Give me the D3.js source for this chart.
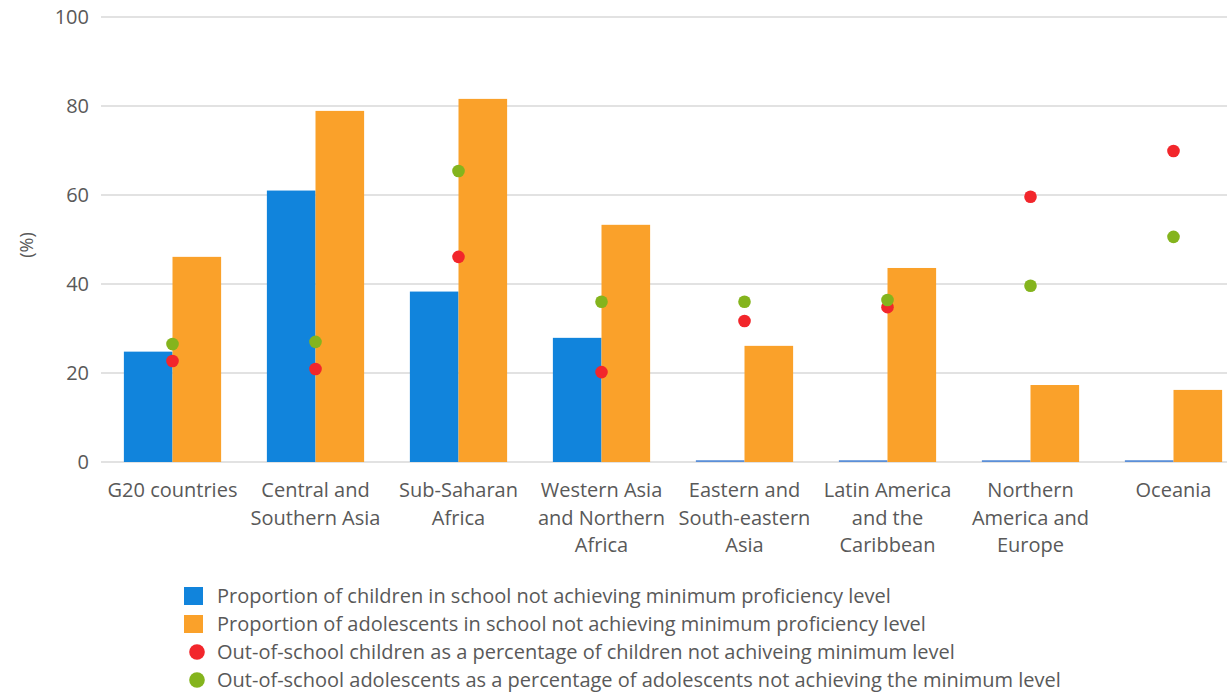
<!DOCTYPE html>
<html>
<head>
<meta charset="utf-8">
<script src="https://cdn.jsdelivr.net/npm/d3@7"></script>
<style>
  html, body { margin: 0; padding: 0; background: #fff; }
  svg { display: block; font-family: "Open Sans", sans-serif; }
</style>
</head>
<body>
<svg id="chart" width="1227" height="693"></svg>
<script>
// Regional shares of learners not reaching minimum proficiency
const categories = [
  "G20 countries",
  "Central and Southern Asia",
  "Sub-Saharan Africa",
  "Western Asia and Northern Africa",
  "Eastern and South-eastern Asia",
  "Latin America and the Caribbean",
  "Northern America and Europe",
  "Oceania"
];
const categoryLines = [
  ["G20 countries"],
  ["Central and", "Southern Asia"],
  ["Sub-Saharan", "Africa"],
  ["Western Asia", "and Northern", "Africa"],
  ["Eastern and", "South-eastern", "Asia"],
  ["Latin America", "and the", "Caribbean"],
  ["Northern", "America and", "Europe"],
  ["Oceania"]
];
const childrenInSchool    = [24.8, 61.0, 38.3, 27.9, 0.4, 0.4, 0.4, 0.4];
const adolescentsInSchool = [46.1, 78.9, 81.6, 53.3, 26.1, 43.6, 17.3, 16.2];
const outOfSchoolChildren    = [22.7, 20.9, 46.1, 20.2, 31.7, 34.8, 59.6, 69.9];
const outOfSchoolAdolescents = [26.5, 27.0, 65.4, 36.0, 36.0, 36.4, 39.6, 50.6];
const yTicks = [0, 20, 40, 60, 80, 100];

const seriesNames = [
  "Proportion of children in school not achieving minimum proficiency level",
  "Proportion of adolescents in school not achieving minimum proficiency level",
  "Out-of-school children as a percentage of children not achiveing minimum level",
  "Out-of-school adolescents as a percentage of adolescents not achieving the minimum level"
];
const colors = ["#1184dc", "#faa12a", "#f2262b", "#84b41d"];

const svg = d3.select("#chart");
const W = 1227;
const plotLeft = 101, plotRight = 1245;
const y = d3.scaleLinear().domain([0, 100]).range([462, 17]);
const x = d3.scaleBand().domain(categories).range([plotLeft, plotRight])
  .paddingInner(0.32).paddingOuter(0.16);
const xSub = d3.scaleBand().domain([0, 1]).range([0, x.bandwidth()]);

const textColor = "#595959";
const fontSize = "20px";

// gridlines
svg.append("g")
  .selectAll("line")
  .data(yTicks)
  .join("line")
  .attr("x1", plotLeft).attr("x2", W)
  .attr("y1", d => y(d)).attr("y2", d => y(d))
  .attr("stroke", "#e2e2e2").attr("stroke-width", 2);

// y axis labels
const yAxis = d3.axisLeft(y).tickValues(yTicks).tickSize(0).tickPadding(0);
svg.append("g")
  .attr("transform", `translate(89,0)`)
  .call(yAxis)
  .call(g => g.select(".domain").remove())
  .call(g => g.selectAll("text")
    .attr("fill", textColor)
    .style("font-size", fontSize)
    .style("font-family", "'Open Sans', sans-serif"));

svg.append("text")
  .attr("transform", "translate(33,245) rotate(-90)")
  .attr("text-anchor", "middle")
  .attr("fill", textColor)
  .style("font-size", "18px")
  .text("(%)");

// bars
const groups = svg.append("g")
  .selectAll("g")
  .data(categories)
  .join("g")
  .attr("transform", d => `translate(${x(d)},0)`);

groups.append("rect")
  .attr("x", xSub(0)).attr("width", xSub.bandwidth())
  .attr("y", (d, i) => y(childrenInSchool[i]))
  .attr("height", (d, i) => y(0) - y(childrenInSchool[i]))
  .attr("fill", (d, i) => childrenInSchool[i] < 1 ? "#5b8fd8" : colors[0]);

groups.append("rect")
  .attr("x", xSub(1)).attr("width", xSub.bandwidth())
  .attr("y", (d, i) => y(adolescentsInSchool[i]))
  .attr("height", (d, i) => y(0) - y(adolescentsInSchool[i]))
  .attr("fill", colors[1]);

// dots
const cx = d => x(d) + x.bandwidth() / 2;
svg.append("g").selectAll("circle")
  .data(categories).join("circle")
  .attr("cx", cx)
  .attr("cy", (d, i) => y(outOfSchoolChildren[i]))
  .attr("r", 6.3).attr("fill", colors[2]);
svg.append("g").selectAll("circle")
  .data(categories).join("circle")
  .attr("cx", cx)
  .attr("cy", (d, i) => y(outOfSchoolAdolescents[i]))
  .attr("r", 6.3).attr("fill", colors[3]);

// category labels
const xl = svg.append("g");
categories.forEach((c, i) => {
  const t = xl.append("text")
    .attr("x", cx(c))
    .attr("text-anchor", "middle")
    .attr("fill", textColor)
    .style("font-size", fontSize);
  categoryLines[i].forEach((line, j) => {
    t.append("tspan").attr("x", cx(c)).attr("y", 497 + j * 27.5).text(line);
  });
});

// legend
const legend = svg.append("g");
seriesNames.forEach((name, i) => {
  const cy = 596 + i * 28;
  if (i < 2) {
    legend.append("rect").attr("x", 184).attr("y", cy - 9)
      .attr("width", 19).attr("height", 18).attr("fill", colors[i]);
  } else {
    legend.append("circle").attr("cx", 197).attr("cy", cy)
      .attr("r", 7.8).attr("fill", colors[i]);
  }
  legend.append("text").attr("x", 217).attr("y", cy + 7)
    .attr("fill", textColor).style("font-size", fontSize).text(name);
});
</script>
</body>
</html>
